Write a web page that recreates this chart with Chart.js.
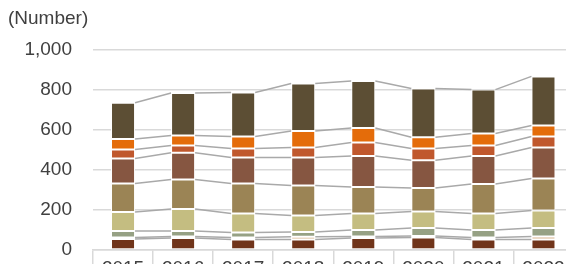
<!DOCTYPE html>
<html>
<head>
<meta charset="utf-8">
<script src="https://cdn.jsdelivr.net/npm/chart.js@4"></script>
<style>
  html, body { margin: 0; padding: 0; background: #fff; overflow: hidden; }
  #wrap { position: relative; width: 580px; height: 300px; }
</style>
</head>
<body>
<div id="wrap"><canvas id="chart" width="580" height="300"></canvas></div>
<script>
const years = ['2015', '2016', '2017', '2018', '2019', '2020', '2021', '2022'];

// series from bottom to top of each stack
const darkBrown = [55, 60, 52, 52, 60, 62, 52, 53];
const peach     = [8, 8, 10, 14, 8, 8, 10, 15];
const grayGreen = [32, 27, 25, 24, 32, 40, 38, 42];
const khaki     = [95, 110, 95, 83, 82, 83, 82, 87];
const tan       = [142, 147, 150, 149, 133, 117, 148, 160];
const brown     = [126, 134, 131, 141, 155, 139, 140, 156];
const orangeRed = [45, 36, 45, 50, 67, 59, 52, 54];
const orange    = [52, 51, 59, 82, 73, 56, 60, 55];
const olive     = [181, 212, 221, 237, 235, 243, 220, 246];

const yTicks = [0, 200, 400, 600, 800, 1000];

const series = [
  { data: darkBrown, color: '#70341a' },
  { data: peach, color: '#d8b48e' },
  { data: grayGreen, color: '#96a184' },
  { data: khaki, color: '#c4bd81' },
  { data: tan, color: '#9b8455' },
  { data: brown, color: '#865641' },
  { data: orangeRed, color: '#c0582d' },
  { data: orange, color: '#e46c0a' },
  { data: olive, color: '#5c4e34' },
];

const textColor = '#404040';
const fontFamily = '"Liberation Sans", Arial, sans-serif';

// Excel-style series lines joining the top of each segment
const seriesLines = {
  id: 'seriesLines',
  beforeDatasetsDraw(chart) {
    const ctx = chart.ctx;
    ctx.save();
    ctx.strokeStyle = '#a9a9a9';
    ctx.lineWidth = 1.5;
    chart.data.datasets.forEach((ds, di) => {
      const bars = chart.getDatasetMeta(di).data;
      for (let i = 0; i < bars.length - 1; i++) {
        const a = bars[i], b = bars[i + 1];
        ctx.beginPath();
        ctx.moveTo(a.x + a.width / 2, a.y);
        ctx.lineTo(b.x - b.width / 2, b.y);
        ctx.stroke();
      }
    });
    ctx.restore();
  },
  afterDraw(chart) {
    const ctx = chart.ctx;
    ctx.save();
    ctx.fillStyle = textColor;
    ctx.font = '19px ' + fontFamily;
    ctx.textBaseline = 'middle';
    ctx.textAlign = 'left';
    ctx.fillText('(Number)', 8, 19);
    ctx.restore();
  },
};

new Chart(document.getElementById('chart'), {
  type: 'bar',
  data: {
    labels: years,
    datasets: series.map(s => ({
      data: s.data,
      backgroundColor: s.color,
      borderColor: '#ffffff',
      borderWidth: 1,
      borderSkipped: false,
      barPercentage: 0.4,
      categoryPercentage: 1,
    })),
  },
  options: {
    responsive: false,
    animation: false,
    events: [],
    layout: { padding: { top: 50, right: 6.5, left: 0, bottom: 0 } },
    plugins: { legend: { display: false }, tooltip: { enabled: false }, title: { display: false } },
    scales: {
      x: {
        stacked: true,
        offset: true,
        grid: {
          offset: true,
          drawOnChartArea: false,
          drawTicks: true,
          tickLength: 20,
          color: '#d9d9d9',
          lineWidth: 1.5,
        },
        border: { display: true, color: '#d9d9d9', width: 1.5 },
        ticks: { color: textColor, font: { size: 19, family: fontFamily }, padding: -13, maxRotation: 0 },
        afterFit(scale) { scale.height = 50; },
      },
      y: {
        stacked: true,
        min: 0,
        max: 1000,
        afterBuildTicks(scale) { scale.ticks = yTicks.map(v => ({ value: v })); },
        grid: { color: '#d9d9d9', lineWidth: 1.5, drawTicks: false },
        border: { display: false },
        ticks: {
          color: textColor,
          font: { size: 19, family: fontFamily },
          padding: 21,
          callback: v => v.toLocaleString('en-US'),
        },
        afterFit(scale) { scale.width = 93; },
      },
    },
  },
  plugins: [seriesLines],
});
</script>
</body>
</html>
